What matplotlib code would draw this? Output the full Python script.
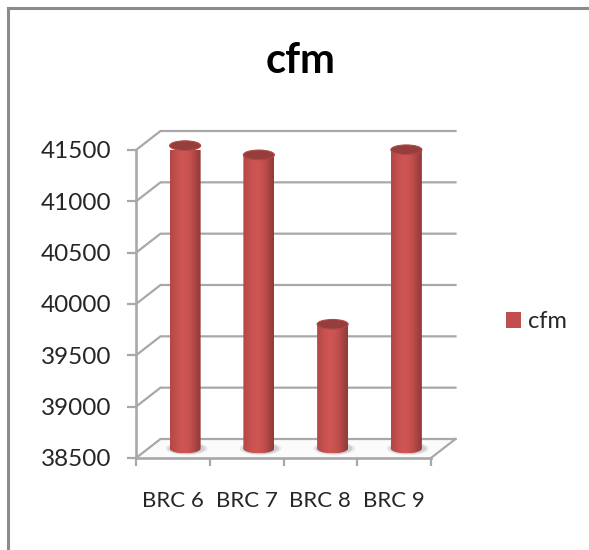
import numpy as np
import matplotlib
matplotlib.use("Agg")
import matplotlib.pyplot as plt
from matplotlib.colors import LinearSegmentedColormap
from matplotlib.lines import Line2D
from matplotlib.patches import Ellipse, Patch, Polygon

categories = ["BRC 6", "BRC 7", "BRC 8", "BRC 9"]
cfm_values = [41450, 41360, 39710, 41410]
y_ticks = [38500, 39000, 39500, 40000, 40500, 41000, 41500]
series_name = "cfm"

W, H = 589, 550
GREY = "#a8a8a8"
TEXT = "#262626"
plt.rcParams["font.family"] = ["Lato", "DejaVu Sans"]

fig = plt.figure(figsize=(W / 100, H / 100), dpi=100, facecolor="white")
left, right, top, bottom = 136, 431, 150, 458
ax = fig.add_axes([left / W, 1 - bottom / H, (right - left) / W, (bottom - top) / H])
ax.patch.set_visible(False)
ax.set_xlim(-0.5, 3.5)
ax.set_ylim(y_ticks[0], y_ticks[-1])

# depth of the pseudo-3D box, in data units
px_x = (right - left) / 4
px_y = (bottom - top) / (y_ticks[-1] - y_ticks[0])
ddx = 24.5 / px_x
ddy = 19 / px_y
x0, x1 = -0.5, 3.5
base = y_ticks[0]

# outer chart frame
for xs, ys in [((8, W), (8, 8)), ((8, 8), (8, H))]:
    fig.add_artist(Line2D([x / W for x in xs], [1 - y / H for y in ys],
                          color="#8c8c8c", lw=2.2, transform=fig.transFigure))

# back wall gridlines and their diagonals
for t in y_ticks:
    ax.plot([x0, x0 + ddx, x1 + ddx], [t, t + ddy, t + ddy], color=GREY, lw=1.6,
            clip_on=False, zorder=1, solid_joinstyle="miter")

# floor
ax.add_patch(Polygon([(x0, base), (x0 + ddx, base + ddy), (x1 + ddx, base + ddy), (x1, base)],
                     closed=True, facecolor="#fbfbfb", edgecolor="none", clip_on=False, zorder=0.5))
ax.plot([x1, x1 + ddx], [base, base + ddy], color=GREY, lw=1.6, clip_on=False, zorder=1)

# cylinders
gradient = LinearSegmentedColormap.from_list(
    "cylinder", ["#b24846", "#bf4d4b", "#ca5351", "#ce5654", "#ca5351", "#bd4d4b", "#a54341", "#923a38"])
width = 31 / px_x
ry = 4.8 / px_y
shade = np.linspace(0, 1, 128).reshape(1, -1)
theta = np.linspace(np.pi, 2 * np.pi, 48)

for i, value in enumerate(cfm_values):
    cx = i + ddx / 2
    y_low = base + ddy / 2
    y_top = value + ddy / 2

    # soft shadow on the floor
    for scale, alpha in [(1.35, 0.12), (1.18, 0.2)]:
        ax.add_patch(Ellipse((cx + 0.02, y_low), width * scale, 2 * ry * scale, facecolor="#666666",
                             edgecolor="none", alpha=alpha, clip_on=False, zorder=1.5))

    outline = np.column_stack([
        np.r_[cx - width / 2, cx + width / 2 * np.cos(theta), cx + width / 2],
        np.r_[y_top, y_low + ry * np.sin(theta), y_top],
    ])
    body = Polygon(outline, closed=True, facecolor="none", edgecolor="none",
                   transform=ax.transData, clip_on=False)
    ax.add_patch(body)
    im = ax.imshow(shade, cmap=gradient, aspect="auto", zorder=2,
                   extent=(cx - width / 2, cx + width / 2, y_low - ry, y_top))
    im.set_clip_path(body)

    # top cap
    ax.add_patch(Ellipse((cx, y_top), width, 2 * ry, facecolor="#953e3c", edgecolor="#b04846",
                         lw=0.8, clip_on=False, zorder=3))

ax.set_xlim(-0.5, 3.5)
ax.set_ylim(y_ticks[0], y_ticks[-1])

# axes, ticks and labels
for side in ("top", "right"):
    ax.spines[side].set_visible(False)
for side in ("left", "bottom"):
    ax.spines[side].set_color(GREY)
    ax.spines[side].set_linewidth(1.9)
    ax.spines[side].set_zorder(1.2)

ax.set_yticks(y_ticks)
ax.set_yticklabels([str(t) for t in y_ticks])
ax.tick_params(axis="y", length=6.5, width=1.6, color=GREY, pad=11, labelsize=17.5, labelcolor=TEXT)
ax.set_xticks(np.arange(-0.5, 4.0, 1.0))
ax.set_xticklabels([])
ax.set_xticks(np.arange(len(categories)), minor=True)
ax.set_xticklabels(categories, minor=True)
ax.tick_params(axis="x", which="major", length=5.5, width=1.6, color=GREY)
ax.tick_params(axis="x", which="minor", length=0, pad=24, labelsize=16, labelcolor=TEXT)

fig.text(301 / W, 1 - 61 / H, series_name, ha="center", va="center", fontsize=30,
         fontweight="bold", color="black")

fig.legend(handles=[Patch(facecolor="#c0504d", edgecolor="none", label=series_name)],
           loc="center left", bbox_to_anchor=(506 / W, 1 - 322 / H), frameon=False,
           fontsize=17, handlelength=0.65, handleheight=0.65, handletextpad=0.3,
           borderpad=0, borderaxespad=0, labelcolor=TEXT)

fig.savefig("out.png", dpi=100, facecolor="white")
